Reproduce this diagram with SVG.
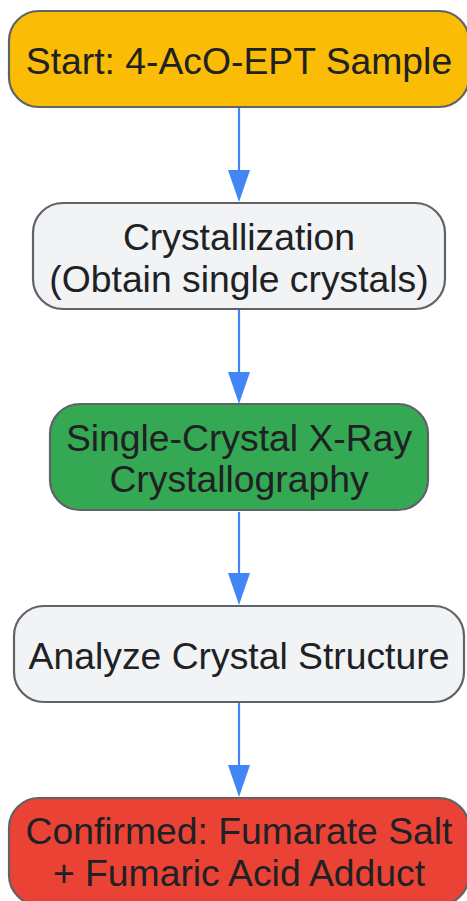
<svg xmlns="http://www.w3.org/2000/svg" width="467" height="901" viewBox="0 0 467 901">
<style>
.n{stroke:#5f6368;stroke-width:2.2}
.t{font-family:"Liberation Sans",Arial,sans-serif;font-size:37.3px;fill:#202124;text-anchor:middle}
.e{stroke:#4285f4;stroke-width:2.2;fill:none}
.h{fill:#4285f4}
</style>
<rect width="467" height="901" fill="#ffffff"/>
<g id="connectors">
<line class="e" x1="239" y1="108" x2="239" y2="172"/>
<polygon class="h" points="228,170 250,170 239,202"/>
<line class="e" x1="239" y1="310" x2="239" y2="374"/>
<polygon class="h" points="228,372 250,372 239,404"/>
<line class="e" x1="239" y1="512" x2="239" y2="575"/>
<polygon class="h" points="228,573 250,573 239,605"/>
<line class="e" x1="239" y1="703" x2="239" y2="767"/>
<polygon class="h" points="228,765 250,765 239,797"/>
</g>
<g id="start">
<rect class="n" x="9" y="11" width="460" height="96" rx="30" fill="#fbbc05"/>
<text class="t" x="239" y="74">Start: 4-AcO-EPT Sample</text>
</g>
<g id="crystallization">
<rect class="n" x="33" y="203" width="412" height="106" rx="30" fill="#f1f3f4"/>
<text class="t" x="239" y="250">Crystallization</text>
<text class="t" x="239" y="292">(Obtain single crystals)</text>
</g>
<g id="xray">
<rect class="n" x="50" y="404" width="378" height="106" rx="30" fill="#34a853"/>
<text class="t" x="239" y="451">Single-Crystal X-Ray</text>
<text class="t" x="239" y="492">Crystallography</text>
</g>
<g id="analyze">
<rect class="n" x="14" y="606" width="450" height="96" rx="30" fill="#f1f3f4"/>
<text class="t" x="239" y="669">Analyze Crystal Structure</text>
</g>
<g id="confirmed">
<rect class="n" x="9" y="798" width="460" height="107" rx="30" fill="#ea4335"/>
<text class="t" x="239" y="844">Confirmed: Fumarate Salt</text>
<text class="t" x="239" y="886">+ Fumaric Acid Adduct</text>
</g>
</svg>
